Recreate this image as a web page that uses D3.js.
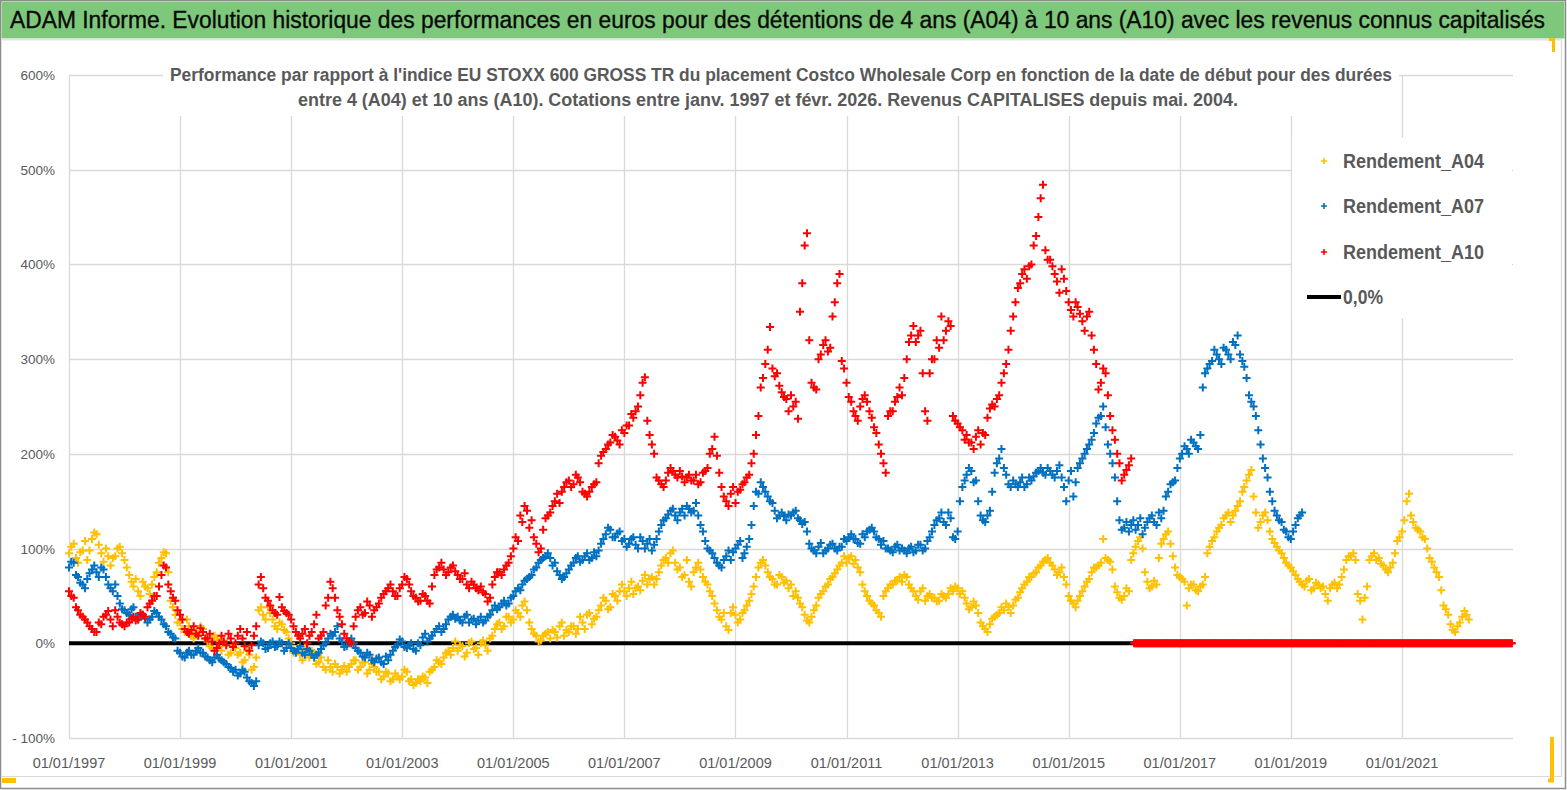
<!DOCTYPE html>
<html><head><meta charset="utf-8">
<script src="https://cdn.jsdelivr.net/npm/d3@7"></script>
<style>html,body{margin:0;padding:0;background:#fff;overflow:hidden}svg{display:block}</style>
</head><body>
<svg id="chart" width="1567" height="790"></svg>
<script>
// ---------- texts ----------
const titleText = "ADAM Informe. Evolution historique des performances en euros pour des détentions de 4 ans (A04) à 10 ans (A10) avec les revenus connus capitalisés";
const subtitleLines = [
  "Performance par rapport à l'indice EU STOXX 600 GROSS TR  du placement Costco Wholesale Corp en fonction de la date de début pour des durées",
  "entre 4 (A04) et 10 ans (A10).  Cotations entre janv. 1997 et févr. 2026. Revenus CAPITALISES depuis mai. 2004."
];
const seriesNames = ["Rendement_A04", "Rendement_A07", "Rendement_A10"];
const zeroLineName = "0,0%";
const yTickValues = [-100, 0, 100, 200, 300, 400, 500, 600];
const xTickYears = [1997, 1999, 2001, 2003, 2005, 2007, 2009, 2011, 2013, 2015, 2017, 2019, 2021];
const xDomainYears = [1997, 2023];

// ---------- data (%): one value at the start of each month from Jan 1997 ----------
const A04 = [
  95,105,85,98,88,110,115,95,100,82,92,102,        // 1997
  88,72,60,55,65,58,62,75,90,95,45,30,             // 1998
  22,12,18,5,10,15,2,-5,5,-8,-2,-10,               // 1999
  -5,-10,-18,-12,-25,35,30,38,25,15,20,12,         // 2000
  0,-8,-12,-5,-15,-10,-20,-25,-18,-30,-25,-28,     // 2001
  -30,-22,-18,-25,-20,-28,-25,-30,-35,-32,-38,-35, // 2002
  -35,-30,-38,-42,-40,-36,-30,-25,-20,-15,-8,-5,   // 2003
  -8,-3,-10,2,-5,0,-2,5,15,22,18,28,               // 2004
  25,32,40,35,15,8,3,10,5,12,18,8,                 // 2005
  12,18,15,22,30,20,28,40,45,38,50,55,             // 2006
  55,58,52,60,66,62,70,68,82,90,95,85,             // 2007
  80,72,65,75,85,70,62,50,35,25,18,32,             // 2008
  30,25,35,45,60,80,88,75,68,62,70,66,             // 2009
  62,55,42,30,22,35,48,55,62,70,78,85,             // 2010
  85,92,88,75,55,45,40,32,50,58,62,66,             // 2011
  65,70,58,50,55,45,52,48,45,50,52,55,             // 2012
  58,55,42,38,40,22,15,20,28,32,35,38,             // 2013
  40,48,58,65,70,75,82,88,85,78,75,70,             // 2014
  50,42,45,55,65,75,80,85,90,86,60,48,             // 2015
  50,55,95,108,100,65,60,62,105,115,105,80,        // 2016
  70,65,58,62,55,62,95,108,118,125,135,128,        // 2017
  140,150,165,178,155,122,135,130,110,102,95,85,   // 2018
  80,72,65,60,68,58,62,60,45,62,58,70,             // 2019
  88,92,88,45,48,88,95,90,82,75,85,108,            // 2020
  118,150,135,122,118,110,90,80,70,40,30,14,       // 2021
  18,28,30                                         // 2022
];
// second reading in each month (mid-month), same start
const A04_mid = [
  102,90,96,108,98,117,104,86,92,90,100,95,
  80,65,68,50,60,52,70,85,96,75,38,22,
  15,25,8,12,18,5,-3,8,-4,3,-12,-2,
  -12,-20,-8,-28,-15,38,25,32,18,22,14,5,
  -10,-5,-18,-10,-8,-22,-15,-28,-25,-22,-32,-24,
  -25,-18,-28,-20,-32,-22,-30,-38,-30,-40,-32,-38,
  -28,-40,-44,-38,-35,-42,-28,-18,-22,-10,-12,2,
  -2,-14,0,-6,-12,3,-8,8,20,15,28,22,
  35,28,44,22,10,2,8,12,14,6,22,14,
  18,10,28,15,32,26,35,48,36,52,45,62,
  50,65,58,56,72,68,62,75,88,85,98,78,
  70,88,60,80,78,65,55,42,28,32,14,38,
  22,32,40,52,70,85,82,70,62,72,64,58,
  50,48,38,24,28,40,52,60,68,74,82,92,
  90,84,80,62,50,42,35,28,55,62,66,70,
  72,62,55,46,58,50,48,44,52,48,58,60,
  52,48,36,44,32,18,12,26,30,38,42,32,
  46,54,62,70,74,80,86,90,82,72,80,62,
  45,38,50,60,68,80,82,110,88,78,54,46,
  58,88,102,112,75,58,66,90,110,118,92,72,
  68,40,62,56,60,70,102,112,122,132,138,135,
  145,160,172,183,138,128,138,118,106,98,90,82,
  76,68,62,66,56,64,58,52,58,64,62,78,
  92,95,52,25,60,92,88,84,78,80,95,112,
  130,158,128,120,112,100,86,75,56,36,20,12,
  22,34,25
];
const A07 = [
  80,85,70,62,68,78,75,80,70,58,62,42,             // 1997
  35,30,38,25,30,22,28,32,25,18,10,5,              // 1998
  -10,-15,-8,-12,-5,-10,-15,-20,-12,-18,-22,-26,   // 1999
  -28,-32,-30,-40,-45,-2,0,-5,2,-3,0,-5,           // 2000
  -5,-10,-3,-12,-8,-15,-10,-2,5,8,18,2,            // 2001
  -3,5,-5,-10,-15,-12,-20,-15,-22,-18,-8,-2,       // 2002
  2,-5,0,-8,-2,10,5,12,18,15,25,30,                // 2003
  28,22,30,25,20,28,24,30,40,38,45,42,             // 2004
  50,58,62,68,72,80,88,92,90,85,72,70,             // 2005
  78,85,92,88,95,90,92,105,115,120,112,118,        // 2006
  110,105,112,100,108,105,98,110,125,132,140,135,  // 2007
  138,135,142,140,135,118,100,95,85,80,92,88,      // 2008
  100,108,95,110,145,158,165,155,148,132,138,130,  // 2009
  135,140,130,128,105,98,102,95,100,105,98,102,    // 2010
  108,115,110,105,112,120,118,110,108,100,96,104,  // 2011
  100,95,102,98,104,100,112,125,132,128,138,112,   // 2012
  118,165,178,182,172,135,128,140,180,195,185,168, // 2013
  172,165,175,168,172,180,185,178,182,175,188,165, // 2014
  172,155,185,195,205,215,232,240,228,200,175,130, // 2015
  122,118,130,125,115,128,135,125,132,155,168,172, // 2016
  195,208,200,212,205,270,290,298,305,295,310,300, // 2017
  315,305,292,262,250,225,195,175,150,135,128,118, // 2018
  110,125,135                                      // 2019
];
const A07_mid = [
  86,72,64,58,74,82,70,78,62,55,50,36,
  32,36,28,30,26,25,34,28,20,12,6,-8,
  -14,-10,-12,-8,-10,-14,-18,-15,-16,-20,-25,-30,
  -34,-28,-36,-42,-40,2,-6,0,-4,2,-8,0,
  -8,-6,-10,-6,-12,-12,-6,0,10,12,5,-4,
  2,0,-8,-14,-10,-18,-16,-20,-14,-12,-4,4,
  -4,-2,-6,0,6,2,8,15,12,20,28,26,
  24,28,22,26,24,22,28,35,36,42,40,48,
  55,56,66,70,78,85,90,95,82,76,68,74,
  82,90,86,92,88,96,98,110,122,112,116,108,
  102,110,104,112,100,110,104,118,130,136,142,130,
  142,145,138,148,125,108,98,90,82,88,98,96,
  104,90,102,125,160,170,160,150,140,135,134,136,
  138,132,126,118,100,95,106,98,104,100,102,110,
  112,110,106,115,118,122,112,104,100,98,102,98,
  98,100,96,104,98,108,118,130,138,125,132,110,
  150,172,185,170,150,130,135,160,190,205,178,165,
  168,170,165,175,176,182,180,185,178,182,175,150,
  182,170,190,200,210,222,238,250,210,190,150,120,
  128,125,120,132,122,132,128,138,140,160,170,185,
  200,205,215,208,220,285,295,310,300,312,305,318,
  325,298,280,255,240,210,185,160,140,130,120,112,
  118,132,138
];
const A10 = [
  55,48,35,28,22,15,12,20,30,25,35,22,             // 1997
  18,22,28,25,30,38,45,50,72,80,55,45,             // 1998
  30,15,10,18,8,12,5,2,-5,8,-2,5,                  // 1999
  0,15,-3,-8,8,62,58,45,35,30,38,32,               // 2000
  25,12,5,15,8,20,5,12,48,58,35,20,                // 2001
  5,0,28,38,32,40,35,42,52,58,55,50,               // 2002
  62,68,55,48,45,50,42,72,80,78,75,82,             // 2003
  72,68,62,65,58,60,52,48,70,75,78,85,             // 2004
  100,108,128,140,130,105,100,132,138,150,148,165, // 2005
  172,168,175,160,155,165,170,198,205,212,218,210, // 2006
  222,230,238,250,275,235,210,175,168,172,185,178, // 2007
  182,170,178,172,168,180,185,205,198,165,150,158, // 2008
  148,162,170,178,200,240,280,310,290,285,265,258, // 2009
  262,255,350,420,320,270,300,315,308,345,380,298, // 2010
  275,255,240,250,262,245,228,210,190,240,245,260, // 2011
  262,300,325,318,330,245,285,300,312,320,340,240, // 2012
  232,225,220,212,218,210,220,248,250,262,285,310, // 2013
  345,375,390,385,400,430,470,415,405,390,370,385, // 2014
  360,345,355,340,345,325,295,275,285,240,215,190, // 2015
  178,188                                          // 2016
];
const A10_mid = [
  50,38,30,25,18,12,22,28,34,18,28,20,
  22,26,24,32,28,42,50,60,82,62,48,35,
  25,12,14,10,16,5,10,-8,0,2,10,-4,
  8,5,12,-2,18,70,48,40,32,49,34,30,
  18,8,10,0,12,30,8,40,65,48,28,10,
  2,18,35,30,44,28,38,48,55,62,50,58,
  70,62,50,44,52,45,60,78,85,72,80,76,
  68,74,58,62,56,54,44,62,75,72,82,92,
  112,135,145,122,112,96,120,135,145,158,160,170,
  165,178,170,158,160,168,190,202,210,220,214,225,
  230,242,245,262,281,220,200,172,165,180,182,175,
  176,175,172,178,170,182,200,218,180,155,145,165,
  160,168,175,190,220,270,295,334,282,272,260,245,
  250,237,380,433,275,268,305,320,312,360,390,290,
  260,245,235,258,255,238,222,200,180,245,255,270,
  280,318,335,325,285,235,300,320,345,330,335,235,
  228,215,212,205,225,222,238,252,258,275,295,330,
  360,380,395,398,420,450,484,405,398,382,395,372,
  352,360,348,330,350,310,268,290,262,225,200,172,
  183,195
];
// after Feb 2016 Rendement_A10 is plotted at 0 up to the end of the axis
const A10_zeroFrom = "2016-03-01";
const A10_zeroTo = "2023-01-01";
const A10_zeroValue = 0;
const zeroLineValue = 0;

// ---------- layout ----------
const W = 1567, H = 790;
const plot = {left: 69, right: 1513, top: 75, bottom: 738};
const colors = {A04: "#FFC000", A07: "#0070C0", A10: "#FF0000"};
const narrow = "'Liberation Sans Narrow', 'Liberation Sans', Arial, sans-serif";
const sans = "'Liberation Sans', Arial, sans-serif";

const svg = d3.select("#chart");

const monthly = (startYear, vals, day) => vals.map((v, i) => ({date: new Date(Date.UTC(startYear, i, day)), value: v}));
const dA04 = monthly(1997, A04, 1).concat(monthly(1997, A04_mid, 16));
const dA07 = monthly(1997, A07, 1).concat(monthly(1997, A07_mid, 16));
const dA10 = monthly(1997, A10, 1).concat(monthly(1997, A10_mid, 16)).concat(
  d3.utcWeek.range(new Date(A10_zeroFrom), new Date(A10_zeroTo)).map(d => ({date: d, value: A10_zeroValue}))
);

const x = d3.scaleUtc()
  .domain(xDomainYears.map(yy => new Date(Date.UTC(yy, 0, 1))))
  .range([plot.left, plot.right]);
const y = d3.scaleLinear().domain([-100, 600]).range([plot.bottom, plot.top]);

// background & frame
svg.append("rect").attr("x", 0).attr("y", 0).attr("width", W).attr("height", H).attr("fill", "#fff");
svg.append("rect").attr("x", 0.5).attr("y", 0.5).attr("width", W - 2).attr("height", H - 2)
  .attr("fill", "none").attr("stroke", "#8c8c8c").attr("stroke-width", 1.5);
svg.append("path").attr("d", "M1.5,776.5H1561.5V40").attr("fill", "none").attr("stroke", "#d9d9d9").attr("stroke-width", 1.2);

// header
svg.append("rect").attr("x", 1.5).attr("y", 1.5).attr("width", 1563).attr("height", 37).attr("fill", "#7EC87C");
svg.append("line").attr("x1", 1).attr("x2", 1562).attr("y1", 39.5).attr("y2", 39.5).attr("stroke", "#e3e3e3").attr("stroke-width", 2);
svg.append("text").text(titleText)
  .attr("x", 10).attr("y", 28)
  .attr("font-family", narrow)
  .attr("font-size", 23).attr("fill", "#0a0a0a").attr("stroke", "#0a0a0a").attr("stroke-width", 0.35)
  .attr("textLength", 1535).attr("lengthAdjust", "spacingAndGlyphs");
svg.append("path").attr("d", "M1549,39.5H1553.5V52").attr("fill", "none").attr("stroke", "#FFC000").attr("stroke-width", 3);
svg.append("path").attr("d", "M1552,737V780.5H1548").attr("fill", "none").attr("stroke", "#FFC000").attr("stroke-width", 4);
svg.append("rect").attr("x", 2).attr("y", 778).attr("width", 14).attr("height", 5).attr("fill", "#FFC000");

// gridlines
const g = svg.append("g");
g.selectAll("line.hg").data(yTickValues).join("line").attr("class", "hg")
  .attr("x1", plot.left).attr("x2", plot.right)
  .attr("y1", d => Math.round(y(d)) + 0.5).attr("y2", d => Math.round(y(d)) + 0.5)
  .attr("stroke", "#d9d9d9").attr("stroke-width", 1.3);
const xTickDates = xTickYears.map(yy => new Date(Date.UTC(yy, 0, 1)));
g.selectAll("line.vg").data(xTickDates).join("line").attr("class", "vg")
  .attr("x1", d => Math.round(x(d)) + 0.5).attr("x2", d => Math.round(x(d)) + 0.5)
  .attr("y1", plot.top).attr("y2", plot.bottom)
  .attr("stroke", "#d9d9d9").attr("stroke-width", 1.3);

// axis labels
const yFmt = v => v < 0 ? "- " + Math.abs(v) + "%" : v + "%";
svg.append("g").selectAll("text").data(yTickValues).join("text")
  .attr("x", 55).attr("y", d => y(d) + 5).attr("text-anchor", "end")
  .attr("font-family", sans).attr("font-size", 13.5).attr("fill", "#595959").text(yFmt);
const xFmt = d3.utcFormat("%d/%m/%Y");
svg.append("g").selectAll("text").data(xTickDates).join("text")
  .attr("x", d => x(d)).attr("y", 768).attr("text-anchor", "middle")
  .attr("font-family", sans).attr("font-size", 14.5).attr("fill", "#595959").text(xFmt);

// subtitle with white box
svg.append("rect").attr("x", 163).attr("y", 62).attr("width", 1236).attr("height", 54).attr("fill", "#fff");
subtitleLines.forEach((t, i) => {
  const w = i === 0 ? 1222 : 940;
  const x0 = i === 0 ? 170 : 298;
  svg.append("text").text(t).attr("x", x0).attr("y", 81 + i * 25)
    .attr("font-family", narrow).attr("font-size", 18).attr("font-weight", "bold").attr("fill", "#595959")
    .attr("textLength", w).attr("lengthAdjust", "spacingAndGlyphs");
});

// zero line (behind markers)
svg.append("line")
  .attr("x1", x(new Date(Date.UTC(xDomainYears[0], 0, 1)))).attr("x2", x(new Date(Date.UTC(xDomainYears[1], 0, 1))))
  .attr("y1", y(zeroLineValue)).attr("y2", y(zeroLineValue))
  .attr("stroke", "#000").attr("stroke-width", 4);

// scatter "+" markers
const plus = "M-4,0H4M0,-4V4";
function drawSeries(data, color) {
  svg.append("g").selectAll("path").data(data).join("path")
    .attr("d", plus)
    .attr("transform", d => `translate(${x(d.date).toFixed(2)},${y(d.value).toFixed(2)})`)
    .attr("stroke", color).attr("stroke-width", 2).attr("fill", "none");
}
drawSeries(dA04, colors.A04);
drawSeries(dA07, colors.A07);
drawSeries(dA10, colors.A10);

// legend
const lg = svg.append("g");
lg.append("rect").attr("x", 1292).attr("y", 138).attr("width", 220).attr("height", 180).attr("fill", "#fff");
const legendItems = [
  {name: seriesNames[0], color: colors.A04, yy: 161},
  {name: seriesNames[1], color: colors.A07, yy: 206},
  {name: seriesNames[2], color: colors.A10, yy: 252}
];
legendItems.forEach(it => {
  lg.append("path").attr("d", "M-3,0H3M0,-3V3").attr("transform", `translate(1324,${it.yy})`)
    .attr("stroke", it.color).attr("stroke-width", 1.6).attr("fill", "none");
  lg.append("text").text(it.name).attr("x", 1343).attr("y", it.yy + 7)
    .attr("font-family", narrow).attr("font-size", 20).attr("font-weight", "bold").attr("fill", "#595959")
    .attr("textLength", 141).attr("lengthAdjust", "spacingAndGlyphs");
});
lg.append("line").attr("x1", 1307).attr("x2", 1341).attr("y1", 297).attr("y2", 297).attr("stroke", "#000").attr("stroke-width", 4);
lg.append("text").text(zeroLineName).attr("x", 1343).attr("y", 304)
  .attr("font-family", narrow).attr("font-size", 20).attr("font-weight", "bold").attr("fill", "#595959")
  .attr("textLength", 40).attr("lengthAdjust", "spacingAndGlyphs");
</script>
</body></html>
